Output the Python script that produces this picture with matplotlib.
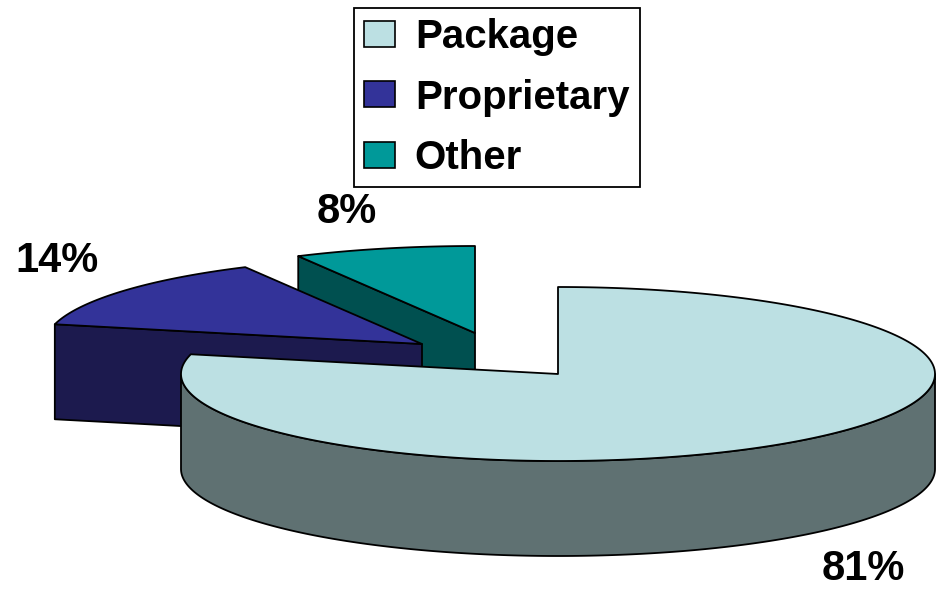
import numpy as np
import matplotlib
matplotlib.use("Agg")
import matplotlib.pyplot as plt
from matplotlib.patches import Polygon, Patch

# ---- data ----
categories = ["Package", "Proprietary", "Other"]
shares = [81, 14, 8]
pct_labels = ["81%", "14%", "8%"]

# ---- style ----
top_colors = ["#BCE0E3", "#333399", "#009999"]
side_colors = ["#5F7172", "#1C1A4E", "#005050"]
FONT = dict(family="Liberation Sans", weight="bold")

# ellipse geometry of the tilted pie (pixel space, y down)
CX, CY = 558, 374
RX, RY = 377, 87
DEPTH = 95
explode_px = [(0, 0), (-136, -30), (-83, -41)]
label_xy = [(863, 580), (57, 272), (347, 223)]

fig = plt.figure(figsize=(9.36, 5.90), dpi=100)
ax = fig.add_axes([0, 0, 1, 1])
ax.set_xlim(0, 936)
ax.set_ylim(590, 0)
ax.axis("off")

EDGE = dict(edgecolor="black", linewidth=1.3, joinstyle="round")


def rim(theta, ox, oy, dz=0.0):
    t = np.radians(theta)
    return np.column_stack([CX + ox + RX * np.cos(t), CY + oy - RY * np.sin(t) + dz])


# slice angle ranges, clockwise from 12 o'clock
total = float(sum(shares))
spans = []
start = 90.0
for v in shares:
    end = start - 360.0 * v / total
    spans.append((end, start))
    start = end

order = sorted(range(len(shares)), key=lambda i: CY + explode_px[i][1])
for i in order:
    lo, hi = spans[i]
    ox, oy = explode_px[i]
    apex = np.array([[CX + ox, CY + oy]])
    apex_d = apex + [0, DEPTH]

    # radial walls facing the viewer
    for ang, normal in ((hi, hi + 90), (lo, lo - 90)):
        if np.sin(np.radians(normal)) < -1e-6:
            p = rim(np.array([ang]), ox, oy)
            poly = np.vstack([apex, p, p + [0, DEPTH], apex_d])
            ax.add_patch(Polygon(poly, closed=True, facecolor=side_colors[i], **EDGE))

    # curved outer wall on the front half of the ellipse
    for k in range(-2, 2):
        a, b = max(lo, -180 + 360 * k), min(hi, 0 + 360 * k)
        if b > a:
            th = np.linspace(a, b, 200)
            top = rim(th, ox, oy)
            bot = rim(th[::-1], ox, oy, DEPTH)
            ax.add_patch(Polygon(np.vstack([top, bot]), closed=True,
                                 facecolor=side_colors[i], **EDGE))

    # top face
    th = np.linspace(hi, lo, 300)
    poly = np.vstack([apex, rim(th, ox, oy)])
    ax.add_patch(Polygon(poly, closed=True, facecolor=top_colors[i], **EDGE))

for (x, y), s in zip(label_xy, pct_labels):
    ax.text(x, y, s, ha="center", va="baseline", fontsize=30, **FONT)

handles = [Patch(facecolor=c, edgecolor="black", linewidth=1.2) for c in top_colors]
leg = fig.legend(handles, categories, loc="upper left",
                 bbox_to_anchor=(354 / 936, 1 - 8 / 590), borderaxespad=0,
                 frameon=True, fancybox=False, framealpha=1, edgecolor="black",
                 prop=dict(size=29, **FONT), handlelength=0.75, handleheight=0.62,
                 handletextpad=0.5, labelspacing=0.55, borderpad=0.26)
leg.get_frame().set_linewidth(1.3)

fig.savefig("out.png", dpi=100)
